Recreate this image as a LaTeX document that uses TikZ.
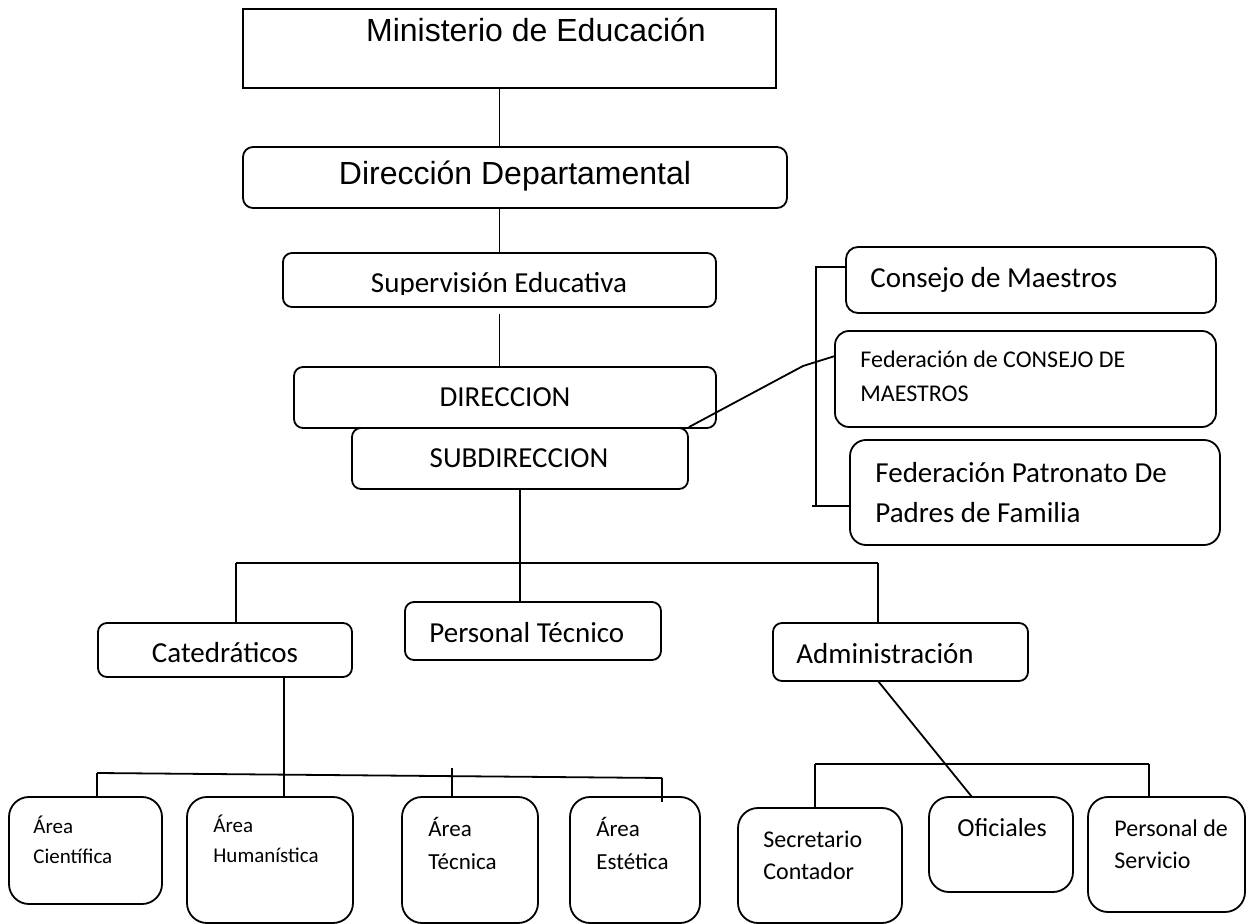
\documentclass[tikz,border=0pt]{standalone}
\usepackage{fontspec}
\setmainfont{Carlito}
\newfontfamily\arialfont{Liberation Sans}
\usetikzlibrary{calc}

\tikzset{
  every node/.style={inner sep=0pt},
  link/.style={line width=0.9pt},
  sqbox/.style={draw,line width=0.8pt},
  box/.style={draw,line width=0.9pt,rounded corners=4.5pt},
  roundbox/.style={box,rounded corners=10pt},
  bigtxt/.style={font=\arialfont\fontsize{16}{19}\selectfont},
  txt/.style={font=\fontsize{14.5}{20}\selectfont,align=left},
  midtxt/.style={font=\fontsize{12}{16}\selectfont,align=left},
  areatxt/.style={font=\fontsize{11.5}{16.5}\selectfont,align=left},
  smalltxt/.style={font=\fontsize{10.5}{15}\selectfont,align=left},
}

\begin{document}
\begin{tikzpicture}[x=0.5pt,y=-0.5pt]
\useasboundingbox (0,0) rectangle (1248,924);

% top chain
\node[sqbox,minimum width=266.5pt,minimum height=39.5pt] (min) at (509.5,48.5) {};
\node[bigtxt,anchor=base] (min-t) at (536,42) {Ministerio de Educación};
\node[box,rounded corners=5pt,minimum width=272pt,minimum height=30.5pt] (dep) at (515,177.5) {};
\node[bigtxt,anchor=base] (dep-t) at (515,185) {Dirección Departamental};
\node[box,minimum width=216.5pt,minimum height=27pt] (sup) at (499.5,280) {};
\begin{scope}
  \clip (sup.north west) rectangle ([yshift=-21pt]sup.north east);
  \node[txt,anchor=base] (sup-t) at (499,293) {Supervisión Educativa};
\end{scope}
\node[box,minimum width=211pt,minimum height=30.5pt] (dir) at (505,397.5) {};
\node[txt,anchor=base] (dir-t) at (505,407) {DIRECCION};
\node[box,minimum width=168pt,minimum height=30.5pt] (sub) at (520,458.5) {};
\node[txt,anchor=base] (sub-t) at (519,468) {SUBDIRECCION};

\draw[link] (sup.north |- min.south) -- (sup.north |- dep.north);
\draw[link] (sup.north |- dep.south) -- (sup.north);
\draw[link] ([yshift=-3pt]sup.south) -- (sup.south |- dir.north);

% side group
\node[box,rounded corners=6pt,minimum width=185pt,minimum height=33pt] (cons) at (1031,280) {};
\node[txt,anchor=base west] (cons-t) at (870,288) {Consejo de Maestros};
\node[box,rounded corners=7pt,minimum width=190.5pt,minimum height=48pt] (fed) at (1025.5,379) {};
\node[midtxt,font=\fontsize{12}{17}\selectfont,anchor=base west] (fed-t) at (860,402) {Federación de CONSEJO DE\\MAESTROS};
\node[box,rounded corners=8pt,minimum width=185pt,minimum height=52.5pt] (pat) at (1035,492.5) {};
\node[txt,anchor=base west] (pat-t) at (875,523) {Federación Patronato De\\Padres de Familia};

\coordinate (kt) at (816,267);
\coordinate (kb) at (816,506);
\draw[link] (cons.west |- kt) -- (kt) -- (kb);
\draw[link] ([xshift=-2pt]kb) -- (pat.west |- kb);
\coordinate (fk) at (803,366);
\coordinate (fi) at (835,356);
\draw[link] (sub.north east) -- (fk) -- (fi);

% second level
\node[box,minimum width=127pt,minimum height=27pt] (cat) at (225,650) {};
\node[txt,anchor=base] (cat-t) at (225,663) {Catedráticos};
\node[box,minimum width=128pt,minimum height=29pt] (pt) at (533,631) {};
\node[txt,anchor=base west] (pt-t) at (429,643) {Personal Técnico};
\node[box,minimum width=127.5pt,minimum height=29pt] (adm) at (900.5,652) {};
\node[txt,anchor=base west] (adm-t) at (796,664) {Administración};

\coordinate (tl) at (236,563);
\coordinate (tr) at (878,563);
\draw[link] (tl) -- (tr);
\draw[link] (sub.south) -- (sub.south |- pt.north);
\draw[link] (tl) -- (tl |- cat.north);
\draw[link] (tr) -- (tr |- adm.north);

% areas
\node[roundbox,minimum width=76.5pt,minimum height=53.5pt] (cien) at (85.5,850.5) {};
\node[smalltxt,anchor=base west] (cien-t) at (33,863) {Área\\Científica};
\node[roundbox,minimum width=83pt,minimum height=63pt] (hum) at (270,860) {};
\node[smalltxt,anchor=base west] (hum-t) at (213,862) {Área\\Humanística};
\node[roundbox,minimum width=68pt,minimum height=63pt] (tec) at (470,860) {};
\node[areatxt,anchor=base west] (tec-t) at (428,869) {Área\\Técnica};
\node[roundbox,minimum width=65pt,minimum height=63pt] (est) at (635,860) {};
\node[areatxt,anchor=base west] (est-t) at (596,869) {Área\\Estética};

\coordinate (cd) at (284,677);
\coordinate (al) at (97,773);
\coordinate (ar) at (662,778);
\coordinate (tk) at (452,768);
\coordinate (ek) at (662,802);
\draw[link] (cd) -- (cd |- hum.north);
\draw[link] (al) -- (ar);
\draw[link] (al) -- (al |- cien.north);
\draw[link] (tk) -- (tk |- tec.north);
\draw[link] (ar) -- (ek);

% administration staff
\node[roundbox,minimum width=82pt,minimum height=57.5pt] (sec) at (820,865.5) {};
\node[midtxt,anchor=base west] (sec-t) at (763,879) {Secretario\\Contador};
\node[roundbox,minimum width=72pt,minimum height=47.5pt] (ofi) at (1001,844.5) {};
\node[font=\fontsize{13}{16}\selectfont,anchor=base west] (ofi-t) at (957,836) {Oficiales};
\node[roundbox,minimum width=78.5pt,minimum height=57.5pt] (serv) at (1166.5,854.5) {};
\node[midtxt,anchor=base west] (serv-t) at (1114,868) {Personal de\\Servicio};

\coordinate (ad) at (878,681);
\coordinate (ao) at (972,797);
\coordinate (bl) at (815,764);
\coordinate (br) at (1149,764);
\draw[link] (ad) -- (ao);
\draw[link] (bl) -- (br);
\draw[link] (bl) -- (bl |- sec.north);
\draw[link] (br) -- (br |- serv.north);

\end{tikzpicture}
\end{document}
